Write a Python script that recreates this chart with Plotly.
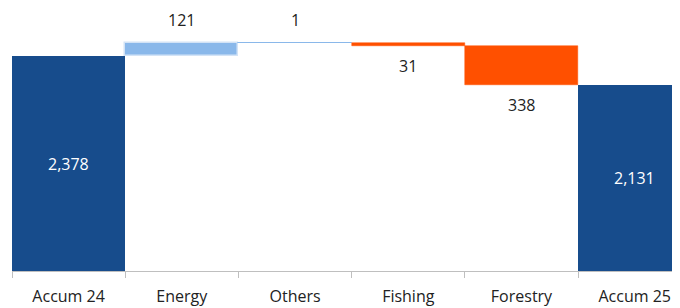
import plotly.graph_objects as go

categories = ["Accum 24", "Energy", "Others", "Fishing", "Forestry", "Accum 25"]
values = [2378, 121, 1, -31, -338, 2131]
measures = ["absolute", "relative", "relative", "relative", "relative", "total"]
labels = ["2,378", "121", "1", "31", "338", "2,131"]

DARK = "#174C8C"
LIGHT = "#8AB8EA"
ORANGE = "#FF5000"
FONT = "Open Sans"
FS = 16
YMIN = 500

bases, heights, colors, lcolors, lwidths = [], [], [], [], []
running = 0
for v, m in zip(values, measures):
    if m == "absolute":
        running = v
        bases.append(YMIN); heights.append(v - YMIN)
        colors.append(DARK); lcolors.append(DARK); lwidths.append(0)
    elif m == "total":
        bases.append(YMIN); heights.append(running - YMIN)
        colors.append(DARK); lcolors.append(DARK); lwidths.append(0)
    else:
        bases.append(running); heights.append(v)
        running += v
        if v >= 0:
            colors.append(LIGHT)
            lcolors.append("#D3E3F6" if v > 10 else LIGHT)
            lwidths.append(1.5 if v > 10 else 1)
        else:
            colors.append(ORANGE); lcolors.append(ORANGE); lwidths.append(0.5)

fig = go.Figure()
fig.add_trace(go.Bar(
    x=categories, y=heights, base=bases,
    marker=dict(color=colors, line=dict(color=lcolors, width=lwidths)),
    hoverinfo="skip",
))

running = 0
for c, v, m, t in zip(categories, values, measures, labels):
    if m == "absolute":
        running = v
        fig.add_annotation(x=c, y=(YMIN + v) / 2, text=t, showarrow=False,
                           font=dict(color="white", size=FS, family=FONT))
    elif m == "total":
        fig.add_annotation(x=c, y=(YMIN + running) / 2, text=t, showarrow=False,
                           font=dict(color="white", size=FS, family=FONT))
    else:
        running += v
        if v >= 0:
            fig.add_annotation(x=c, y=running, text=t, showarrow=False, yshift=23,
                               font=dict(color="#222222", size=FS, family=FONT))
        else:
            fig.add_annotation(x=c, y=running, text=t, showarrow=False, yshift=-20,
                               font=dict(color="#222222", size=FS, family=FONT))

fig.update_layout(
    width=672, height=300,
    margin=dict(l=4, r=0, t=2, b=37, autoexpand=False),
    paper_bgcolor="white", plot_bgcolor="white",
    bargap=0,
    showlegend=False,
    font=dict(family=FONT, size=FS, color="#222222"),
    xaxis=dict(range=[-0.5, 5.4], showline=True, linecolor="#BFBFBF", linewidth=1,
               ticks="outside", tickson="boundaries", ticklen=6, tickcolor="#BFBFBF",
               showgrid=False, tickfont=dict(size=FS, color="#222222", family=FONT),
               ticklabelstandoff=11, automargin=False),
    yaxis=dict(range=[YMIN, 2785], visible=False, showgrid=False, zeroline=False),
)

fig.write_html("out.html")
